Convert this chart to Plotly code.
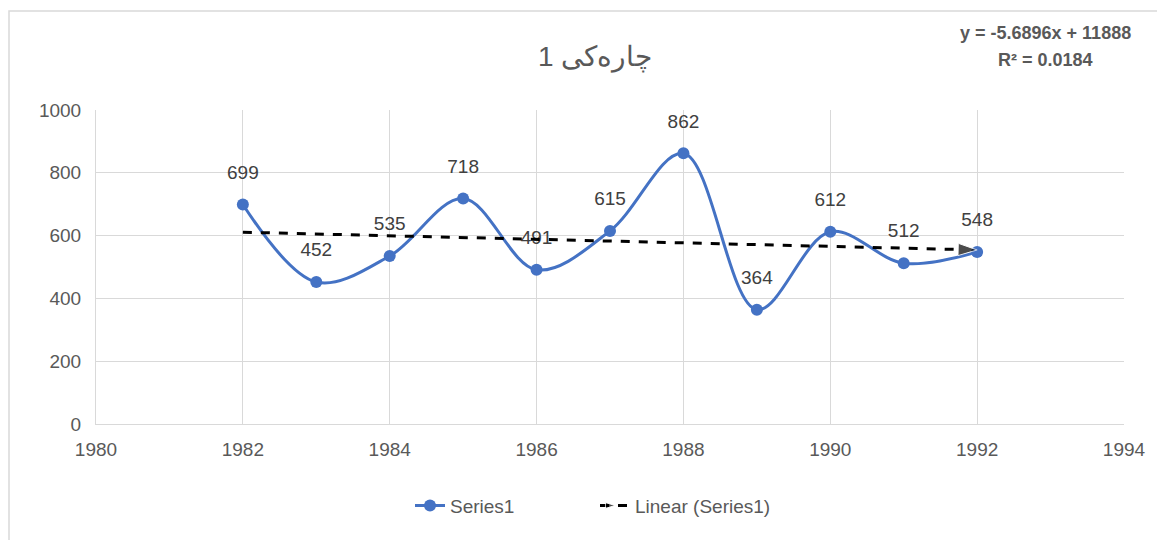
import numpy as np
import plotly.graph_objects as go

years = [1982, 1983, 1984, 1985, 1986, 1987, 1988, 1989, 1990, 1991, 1992]
values = [699, 452, 535, 718, 491, 615, 862, 364, 612, 512, 548]
title_text = "چارەکی 1"
equation_lines = ["y = -5.6896x + 11888", "R² = 0.0184"]
x_ticks = [1980, 1982, 1984, 1986, 1988, 1990, 1992, 1994]
y_ticks = [0, 200, 400, 600, 800, 1000]

slope, intercept = np.polyfit(years, values, 1)
trend_x = [years[0], years[-1]]
trend_y = [slope * x + intercept for x in trend_x]

GRAY = "#595959"
BLUE = "#4472C4"
FONT = "Liberation Sans, Arial, sans-serif"

fig = go.Figure()
fig.add_trace(go.Scatter(
    x=years, y=values, name="Series1",
    mode="lines+markers",
    line=dict(color=BLUE, width=3, shape="spline", smoothing=1),
    marker=dict(color=BLUE, size=12),
))
# data labels (invisible large markers push the text further above the points)
fig.add_trace(go.Scatter(
    x=years, y=values, mode="markers+text", showlegend=False, hoverinfo="skip",
    marker=dict(size=32, opacity=0),
    text=[str(v) for v in values], textposition="top center",
    textfont=dict(size=19, color="#404040", family=FONT),
))
fig.add_trace(go.Scatter(
    x=trend_x, y=trend_y, name="Linear (Series1)",
    mode="lines+markers",
    line=dict(color="black", width=3, dash="dash"),
    marker=dict(symbol="arrow", size=[0, 20], angleref="previous", color="black"),
))

# page offset (body margin) of 8px is compensated in margins
fig.update_layout(
    width=1165, height=540,
    margin=dict(l=88, r=49, t=102, b=124),
    paper_bgcolor="white", plot_bgcolor="white",
    font=dict(family=FONT, color=GRAY, size=19),
    showlegend=True,
    legend=dict(orientation="h", x=0.5 - 15 / 1028, xanchor="center", y=-0.26, yanchor="middle",
                entrywidth=140, font=dict(size=19, color=GRAY)),
    xaxis=dict(range=[1980, 1994], tickvals=x_ticks, showgrid=True, gridcolor="#D9D9D9",
               gridwidth=1, showline=True, linecolor="#D9D9D9", mirror=False, zeroline=False,
               ticks="", tickfont=dict(size=19, color=GRAY), ticklabelstandoff=8),
    yaxis=dict(range=[0, 1000], tickvals=y_ticks, showgrid=True, gridcolor="#D9D9D9",
               gridwidth=1, showline=True, linecolor="#D9D9D9", zeroline=False,
               ticks="", tickfont=dict(size=19, color=GRAY), ticklabelstandoff=10),
    annotations=[
        dict(text=title_text, x=595, y=57, showarrow=False,
             font=dict(size=28, color=GRAY, family=FONT)),
        dict(text="<b>" + equation_lines[0] + "</b>", x=1045, y=33, showarrow=False,
             font=dict(size=18, color=GRAY, family=FONT)),
        dict(text="<b>" + equation_lines[1] + "</b>", x=1045, y=60, showarrow=False,
             font=dict(size=18, color=GRAY, family=FONT)),
    ],
)

# convert page pixel positions of annotations to paper coordinates
pl, pr, pt, pb = 96, 1124, 110, 424
for a in fig.layout.annotations:
    px, py = a.x, a.y
    a.x = (px - pl) / (pr - pl)
    a.y = (pb - py) / (pb - pt)
    a.xref = "paper"
    a.yref = "paper"
    a.xanchor = "center"
    a.yanchor = "middle"

fig.add_shape(type="rect", xref="paper", yref="paper",
              x0=(9 - pl) / (pr - pl), x1=(1185 - pl) / (pr - pl),
              y0=(pb - 555) / (pb - pt), y1=(pb - 11) / (pb - pt),
              line=dict(color="#D9D9D9", width=1.5), layer="below")

fig.write_html("out.html")
